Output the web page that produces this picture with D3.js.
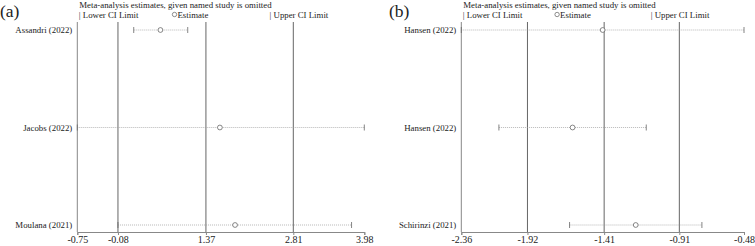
<!DOCTYPE html>
<html>
<head>
<meta charset="utf-8">
<script src="https://cdn.jsdelivr.net/npm/d3@7"></script>
<style>
  body { margin: 0; background: #fff; }
  text { font-family: "Liberation Serif", "Times New Roman", serif; }
</style>
</head>
<body>
<div id="chart"></div>
<script>
// panel (a)
var studiesA = ["Assandri (2022)", "Jacobs (2022)", "Moulana (2021)"]
var estA = [0.62, 1.60, 1.85]
var lowA = [0.18, -0.75, -0.08]
var upA = [1.07, 3.98, 3.77]
var ticksA = [-0.75, -0.08, 1.37, 2.81, 3.98]

// panel (b)
var studiesB = ["Hansen (2022)", "Hansen (2022)", "Schirinzi (2021)"]
var estB = [-1.42, -1.62, -1.20]
var lowB = [-2.36, -2.11, -1.64]
var upB = [-0.48, -1.13, -0.76]
var ticksB = [-2.36, -1.92, -1.41, -0.91, -0.48]

var w = 755
var h = 246

var svg = d3.select("#chart").append("svg")
    .attr("width", w)
    .attr("height", h)

function drawPanel(tag, studies, est, low, up, ticks, x0, x1, ox){
    var top = 22
    var axisY = 232
    var lineCol = "#666"

    var x = d3.scaleLinear()
        .domain([ticks[0], ticks[ticks.length-1]])
        .range([x0, x1])

    var y = d3.scalePoint()
        .domain(d3.range(studies.length))
        .range([30, 225])

    var g = svg.append("g")

    // panel tag
    g.append("text").text(tag)
        .attr("x", ox).attr("y", 17)
        .attr("font-size", 17.5)
        .attr("fill", "#222")

    // title + legend
    g.append("text").text("Meta-analysis estimates, given named study is omitted")
        .attr("x", x0 + 2).attr("y", 8)
        .attr("font-size", 8.8).attr("fill", "#222")

    var legendY = 17.5
    var legX = [x0 + 1.5, x0 + (x1 - x0) * 0.33, x0 + (x1 - x0) * 0.67]
    g.append("text").text("| Lower CI Limit")
        .attr("x", legX[0]).attr("y", legendY)
        .attr("font-size", 8.8).attr("fill", "#222")
    g.append("circle")
        .attr("cx", legX[1] + 2.5).attr("cy", legendY - 3)
        .attr("r", 2.2).attr("fill", "none")
        .attr("stroke", "#444").attr("stroke-width", 0.6)
    g.append("text").text("Estimate")
        .attr("x", legX[1] + 5.5).attr("y", legendY)
        .attr("font-size", 8.8).attr("fill", "#222")
    g.append("text").text("| Upper CI Limit")
        .attr("x", legX[2]).attr("y", legendY)
        .attr("font-size", 8.8).attr("fill", "#222")

    // left frame line
    g.append("line")
        .attr("x1", x0).attr("x2", x0)
        .attr("y1", top).attr("y2", axisY)
        .attr("stroke", "#888").attr("stroke-width", 1)

    // reference lines at overall lower / estimate / upper
    g.selectAll(".ref")
        .data(ticks.slice(1, 4))
        .join("line")
        .attr("x1", function(d){ return x(d) })
        .attr("x2", function(d){ return x(d) })
        .attr("y1", top).attr("y2", axisY)
        .attr("stroke", lineCol).attr("stroke-width", 1)

    // axis
    var xAxis = d3.axisBottom(x)
        .tickValues(ticks)
        .tickSize(3)
        .tickFormat(function(d){ return d.toFixed(2) })
    var ax = g.append("g")
        .attr("transform", "translate(0," + axisY + ")")
        .call(xAxis)
    ax.select(".domain").attr("stroke", "#888")
    ax.selectAll(".tick line").attr("stroke", "#888")
    ax.selectAll(".tick text")
        .attr("font-size", 10).attr("fill", "#222")
        .attr("y", 4)

    // study labels
    g.selectAll(".lab")
        .data(studies)
        .join("text")
        .text(function(d){ return d })
        .attr("x", x0 - 5)
        .attr("y", function(d, i){ return y(i) + 3 })
        .attr("text-anchor", "end")
        .attr("font-size", 8.8).attr("fill", "#222")

    // dotted CI lines
    g.selectAll(".ci")
        .data(studies)
        .join("line")
        .attr("x1", function(d, i){ return x(low[i]) })
        .attr("x2", function(d, i){ return x(up[i]) })
        .attr("y1", function(d, i){ return y(i) })
        .attr("y2", function(d, i){ return y(i) })
        .attr("stroke", "#999").attr("stroke-width", 0.7)
        .attr("stroke-dasharray", "1,1")

    // caps
    var caps = []
    studies.forEach(function(d, i){
        caps.push({v: low[i], i: i})
        caps.push({v: up[i], i: i})
    })
    g.selectAll(".cap")
        .data(caps)
        .join("line")
        .attr("x1", function(d){ return x(d.v) })
        .attr("x2", function(d){ return x(d.v) })
        .attr("y1", function(d){ return y(d.i) - 3 })
        .attr("y2", function(d){ return y(d.i) + 3 })
        .attr("stroke", "#666").attr("stroke-width", 0.8)

    // estimates
    g.selectAll(".est")
        .data(est)
        .join("circle")
        .attr("cx", function(d){ return x(d) })
        .attr("cy", function(d, i){ return y(i) })
        .attr("r", 2.4)
        .attr("fill", "#fff")
        .attr("stroke", "#555").attr("stroke-width", 0.7)
}

drawPanel("(a)", studiesA, estA, lowA, upA, ticksA, 77.3, 364.3, 0)
drawPanel("(b)", studiesB, estB, lowB, upB, ticksB, 461.3, 744, 389)
</script>
</body>
</html>
